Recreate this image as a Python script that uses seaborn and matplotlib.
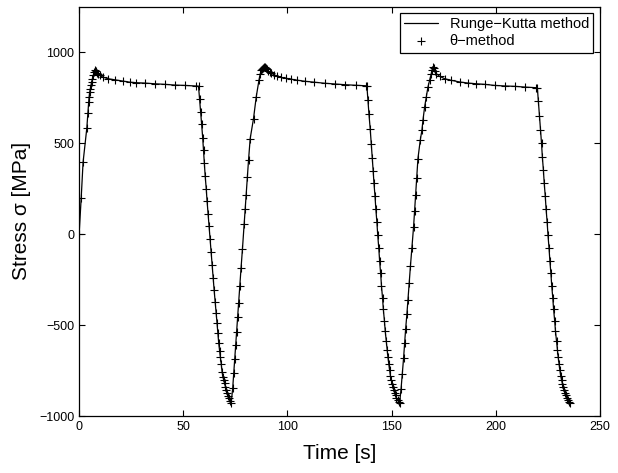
import numpy as np
import pandas as pd
import matplotlib
matplotlib.use('Agg')
import matplotlib.pyplot as plt
import seaborn as sns

# values (time in s, stress in MPa)
cycle1_time = [0.0, 1.0, 1.9, 3.7, 4.2, 4.6, 4.8, 5.1, 5.4, 5.7, 6.0, 6.4, 6.8, 7.2, 7.5,
               7.9, 8.4, 8.9, 9.8, 11.4, 13.8, 17.0, 21.0, 24.2, 27.4, 31.4, 36.2, 41.0, 45.8, 50.6, 56.2, 57.3,
               57.8, 58.3, 58.8, 59.3, 59.7, 60.1, 60.5, 61.0, 61.4, 61.9,
               62.3, 62.8, 63.3, 63.8, 64.3, 64.8, 65.3, 65.8, 66.2, 66.6,
               67.0, 67.4, 67.8, 68.2, 68.6, 69.0, 69.4, 69.8, 70.2, 70.6,
               71.0, 71.5, 72.0, 72.5, 73.0]
cycle1_stress = [0, 198, 395, 583, 665, 727, 754, 782, 800, 818, 837, 855, 873, 893, 905,
                 897, 889, 882, 873, 864, 855, 849, 842, 836, 833, 831, 827, 824, 820, 818, 815, 814,
                 746, 672, 604, 531, 461, 391, 320, 251, 183, 110,
                 44, -29, -100, -170, -240, -308, -372, -436, -491, -546,
                 -600, -641, -678, -714, -757, -784, -802, -820, -839, -857,
                 -875, -890, -903, -916, -927]

cycle2_time = [73.7, 74.2, 74.7, 75.1, 75.6, 76.1, 76.5, 77.1, 77.7, 78.4, 79.2, 79.7, 80.2, 80.8, 81.3,
               82.1, 83.7, 85.0, 86.3, 86.9, 87.4,
               87.8, 88.3, 88.7, 89.1, 89.6, 90.1, 90.6,
               91.4, 92.2, 93.4, 95.0, 97.0, 99.4, 101.8, 104.5, 108.2, 112.5, 117.8, 122.6, 127.4, 132.7, 137.5, 138.1,
               138.6, 139.1, 139.7, 140.2, 140.7, 141.1, 141.5, 142.0, 142.4, 142.9,
               143.3, 143.8, 144.2, 144.7, 145.1, 145.6, 146.0, 146.5, 146.9, 147.4,
               147.8, 148.2, 148.6, 149.0, 149.4, 149.8, 150.2, 150.6, 151.0, 151.4,
               151.9, 152.3, 152.8, 153.3, 153.8]
cycle2_stress = [-848, -765, -688, -610, -537, -458, -381, -286, -188, -79, 55, 141, 218, 315, 407,
                 526, 636, 755, 846, 880, 901,
                 909, 915, 919, 920, 914, 906, 898,
                 891, 886, 877, 869, 862, 857, 852, 847, 841, 836, 830, 826, 822, 819, 816, 815,
                 736, 659, 577, 498, 421, 350, 280, 208, 138, 66,
                 -5, -76, -146, -216, -284, -350, -414, -475, -533, -588,
                 -636, -677, -713, -748, -779, -802, -822, -840, -857, -873,
                 -887, -900, -912, -922, -930]

cycle3_time = [154.5, 155.1, 155.7, 156.2, 156.7, 157.3, 157.8, 158.4, 159.0, 159.7, 160.5, 161.0,
               161.5, 162.0, 162.6, 163.7, 164.5, 165.0, 165.8, 166.6, 167.4, 168.2, 169.0,
               169.4, 169.8, 170.3, 170.8,
               171.4, 173.0, 175.4, 178.6, 182.6, 186.6, 190.6, 194.6, 199.4, 204.2, 209.0, 213.8, 219.1, 219.9,
               220.4, 220.9, 221.4, 221.9, 222.3, 222.8, 223.2, 223.7, 224.1, 224.6,
               225.0, 225.5, 225.9, 226.4, 226.8, 227.3, 227.7, 228.2, 228.6, 229.1,
               229.5, 229.9, 230.3, 230.7, 231.1, 231.5, 231.9, 232.3, 232.7, 233.1,
               233.5, 233.9, 234.4, 234.9, 235.4]
cycle3_stress = [-850, -770, -683, -600, -520, -440, -360, -270, -175, -75, 40, 130,
                 215, 310, 416, 516, 571, 626, 699, 754, 809, 846, 883,
                 905, 919, 912, 898,
                 883, 868, 855, 846, 837, 831, 827, 824, 818, 815, 813, 809, 806, 805,
                 730, 652, 575, 500, 425, 352, 280, 208, 137, 66,
                 -5, -76, -146, -216, -284, -350, -414, -475, -533, -588,
                 -636, -677, -713, -748, -779, -802, -822, -840, -857, -873,
                 -887, -900, -912, -922, -930]

x_ticks = [0, 50, 100, 150, 200, 250]
y_ticks = [-1000, -500, 0, 500, 1000]

df = pd.DataFrame({
    'time': np.concatenate([cycle1_time, cycle2_time, cycle3_time]),
    'stress': np.concatenate([cycle1_stress, cycle2_stress, cycle3_stress]),
})

sns.set_style('ticks')
plt.rcParams['font.family'] = ['Liberation Sans', 'DejaVu Sans']
plt.rcParams['text.color'] = 'black'
plt.rcParams['axes.labelcolor'] = 'black'

fig = plt.figure(figsize=(6.18, 4.73), dpi=100)
ax = fig.add_axes([0.128, 0.1205, 0.843, 0.865])

sns.lineplot(data=df, x='time', y='stress', sort=False, estimator=None, color='black',
             linewidth=0.9, ax=ax, label='Runge\u2212Kutta method', legend=False)
sns.scatterplot(data=df, x='time', y='stress', marker='+', color='black', s=32,
                linewidth=0.8, ax=ax, label='\u03b8\u2212method', legend=False)

ax.set_xlim(0, 250)
ax.set_ylim(-1000, 1250)
ax.set_xticks(x_ticks)
ax.set_yticks(y_ticks)
ax.tick_params(direction='in', top=True, right=True, length=4, width=0.8,
               labelsize=9, colors='black')
for s in ax.spines.values():
    s.set_visible(True)
    s.set_linewidth(0.9)
    s.set_color('black')

ax.set_xlabel('Time [s]', fontsize=15, labelpad=8)
ax.set_ylabel('Stress \u03c3 [MPa]', fontsize=15, labelpad=6)

leg = ax.legend(loc='upper right', bbox_to_anchor=(0.987, 0.985), fontsize=10.5,
                fancybox=False, framealpha=1, edgecolor='black', borderpad=0.3,
                labelspacing=0.2, handlelength=2.3, handletextpad=0.8,
                borderaxespad=0, scatterpoints=1)
leg.get_frame().set_linewidth(0.9)

fig.savefig('out.png', dpi=100)
